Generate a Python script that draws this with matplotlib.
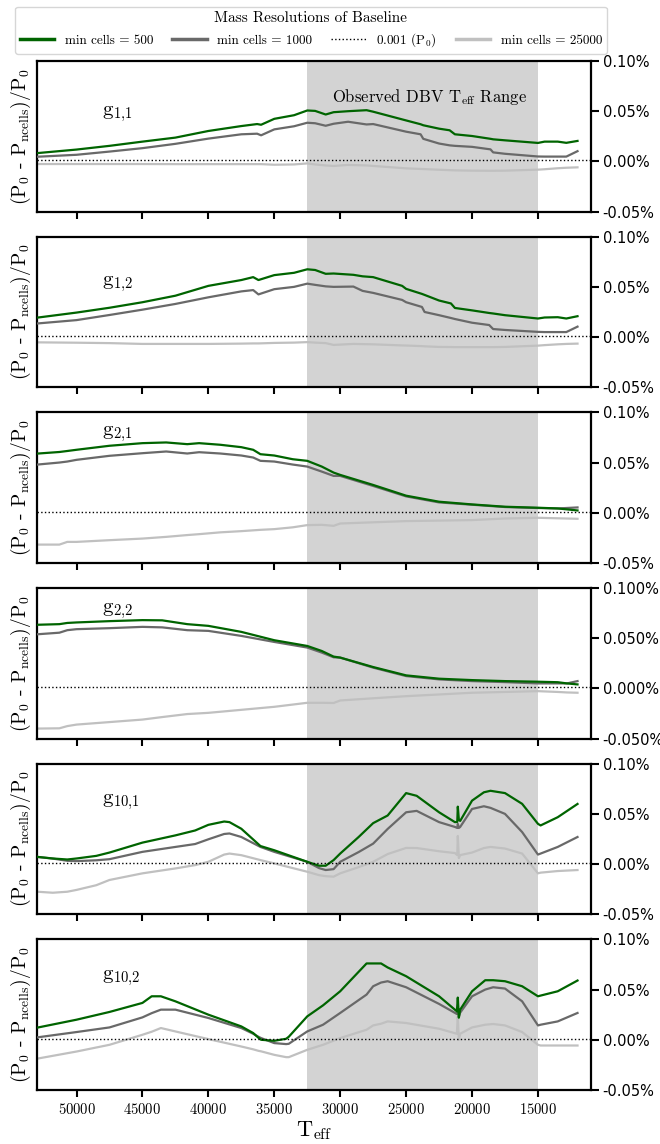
import matplotlib
matplotlib.use('Agg')
import matplotlib.pyplot as plt
from matplotlib.ticker import FixedLocator, FuncFormatter
from matplotlib.lines import Line2D

plt.rcParams['font.family'] = 'serif'
plt.rcParams['font.serif'] = ['cmr10', 'DejaVu Serif']
plt.rcParams['mathtext.fontset'] = 'cm'
plt.rcParams['axes.unicode_minus'] = False
plt.rcParams['axes.formatter.use_mathtext'] = True

# Diferenças relativas de período (%) para cada modo, por resolução mínima
t_g11 = [53200, 50000, 47500, 45000, 42500, 40000, 37500, 36300, 36000, 35000, 33500,
         32500, 31900, 31100, 30500, 29400, 28000, 27500, 25000, 23900, 23700, 22500,
         21700, 21300, 20000, 18600, 18400, 17500, 15000, 14500, 13500, 12850, 12000]
g11_500 = [0.008, 0.0118, 0.0155, 0.0197, 0.0237, 0.0303, 0.0352, 0.0372, 0.0365, 0.0424, 0.046,
           0.0507, 0.0503, 0.0467, 0.049, 0.050, 0.051, 0.0495, 0.0408, 0.037, 0.036, 0.0326,
           0.031, 0.027, 0.0253, 0.0225, 0.022, 0.021, 0.0184, 0.0197, 0.0197, 0.0185, 0.0204]
g11_1000 = [0.0045, 0.0066, 0.0098, 0.0132, 0.0175, 0.0227, 0.027, 0.0276, 0.026, 0.0319, 0.035,
            0.0385, 0.038, 0.0355, 0.0375, 0.0395, 0.0368, 0.0372, 0.0296, 0.027, 0.0225, 0.0178,
            0.016, 0.0155, 0.0145, 0.012, 0.009, 0.0076, 0.0049, 0.0048, 0.0048, 0.0048, 0.0102]
g11_25000 = [-0.0026, -0.0026, -0.0026, -0.0026, -0.0027, -0.0027, -0.0027, -0.0027, -0.0027, -0.0033, -0.003,
             -0.002, -0.003, -0.004, -0.0045, -0.0035, -0.004, -0.0045, -0.0069, -0.0075, -0.0076, -0.0083,
             -0.0087, -0.0089, -0.0092, -0.0093, -0.0093, -0.0092, -0.0082, -0.0078, -0.0068, -0.0063, -0.0059]

t_g12 = [53200, 50000, 47500, 45000, 42500, 40000, 37500, 36600, 36200, 35000, 33500, 32500,
         31900, 31100, 30500, 29000, 28300, 27500, 25300, 25000, 23800, 23600, 22500, 21600,
         21300, 20000, 18700, 18400, 17500, 15000, 14500, 13500, 12850, 12000]
g12_500 = [0.019, 0.0244, 0.0292, 0.0347, 0.0412, 0.051, 0.0568, 0.0597, 0.0568, 0.0617, 0.064, 0.0675,
           0.0668, 0.063, 0.0633, 0.062, 0.0605, 0.0597, 0.051, 0.048, 0.043, 0.042, 0.0364, 0.0335,
           0.029, 0.0266, 0.024, 0.0235, 0.0218, 0.0185, 0.0195, 0.0198, 0.0185, 0.0208]
g12_1000 = [0.0133, 0.0169, 0.022, 0.0273, 0.033, 0.0396, 0.0455, 0.0468, 0.0425, 0.0477, 0.050, 0.0532,
            0.052, 0.0505, 0.050, 0.0503, 0.046, 0.044, 0.037, 0.0347, 0.030, 0.025, 0.0218, 0.019,
            0.018, 0.0143, 0.012, 0.008, 0.0071, 0.0052, 0.005, 0.005, 0.005, 0.0104]
g12_25000 = [-0.0052, -0.0056, -0.006, -0.0068, -0.0068, -0.0068, -0.0065, -0.0063, -0.0063, -0.0058, -0.0055, -0.005,
             -0.0055, -0.006, -0.0078, -0.0068, -0.007, -0.0072, -0.0083, -0.0084, -0.009, -0.0092, -0.0098, -0.0099,
             -0.01, -0.01, -0.01, -0.01, -0.0098, -0.0085, -0.008, -0.0072, -0.0068, -0.0065]

t_g21 = [53200, 51300, 50700, 50000, 47500, 45000, 43200, 41600, 40700, 39100, 37500, 36600, 36050,
         35000, 33600, 32500, 31400, 30500, 30000, 27500, 25000, 22500, 20000, 17500, 15000, 13500, 12000]
g21_500 = [0.0587, 0.0605, 0.0615, 0.0627, 0.0667, 0.0693, 0.070, 0.0683, 0.0693, 0.0677, 0.0653, 0.0627, 0.0583,
           0.057, 0.0533, 0.0517, 0.046, 0.040, 0.0377, 0.0277, 0.017, 0.011, 0.0083, 0.006, 0.005, 0.0043, 0.0023]
g21_1000 = [0.0477, 0.050, 0.051, 0.0527, 0.0567, 0.0593, 0.061, 0.059, 0.0603, 0.059, 0.057, 0.055, 0.0517,
            0.051, 0.048, 0.046, 0.041, 0.0367, 0.0367, 0.0267, 0.0163, 0.0103, 0.008, 0.0057, 0.0047, 0.0043, 0.0053]
g21_25000 = [-0.0317, -0.0317, -0.029, -0.029, -0.0273, -0.0257, -0.024, -0.0222, -0.0213, -0.0195, -0.0183, -0.0175, -0.017,
             -0.0163, -0.0145, -0.0123, -0.012, -0.013, -0.0107, -0.0095, -0.0083, -0.0078, -0.0073, -0.0057, -0.005, -0.0055, -0.006]

t_g22 = [53200, 51300, 50700, 50000, 47500, 45000, 43500, 41600, 40000, 37500, 35000, 32500,
         31400, 30500, 30000, 27500, 25000, 22500, 20000, 17500, 15000, 13500, 12800, 12000]
g22_500 = [0.0633, 0.064, 0.0652, 0.0657, 0.067, 0.068, 0.0678, 0.064, 0.0623, 0.0563, 0.048, 0.0423,
           0.0373, 0.0317, 0.0307, 0.0213, 0.013, 0.0097, 0.0083, 0.0073, 0.0067, 0.0062, 0.005, 0.004]
g22_1000 = [0.0537, 0.0555, 0.058, 0.059, 0.060, 0.0613, 0.0608, 0.058, 0.0573, 0.0523, 0.0463, 0.0407,
            0.0357, 0.031, 0.0307, 0.0207, 0.0123, 0.009, 0.0073, 0.0063, 0.005, 0.005, 0.005, 0.0073]
g22_25000 = [-0.040, -0.0397, -0.0375, -0.036, -0.0335, -0.031, -0.0285, -0.0255, -0.0243, -0.0213, -0.0183, -0.0143,
             -0.0143, -0.0145, -0.012, -0.0098, -0.0077, -0.006, -0.0043, -0.0035, -0.0027, -0.0035, -0.004, -0.0043]

t_g101 = [53200, 51800, 50700, 50000, 48500, 47500, 45000, 42500, 41000, 40000, 38800, 38400, 37500,
          36050, 35000, 32500, 31600, 31100, 30500, 30000, 28600, 27500, 26400, 25000, 24200, 22500,
          21300, 21120, 21080, 21000, 20900, 20000, 19100, 18600, 17500, 16200, 15000, 14800, 13500, 12000]
g101_500 = [0.0075, 0.0056, 0.0046, 0.0056, 0.0082, 0.0115, 0.0214, 0.0286, 0.0335, 0.0391, 0.0424, 0.0418, 0.0352,
            0.018, 0.0138, 0.0023, -0.0016, -0.0016, 0.004, 0.0105, 0.027, 0.0408, 0.0484, 0.0707, 0.068, 0.0516,
            0.0418, 0.042, 0.0572, 0.044, 0.043, 0.0632, 0.0715, 0.073, 0.0707, 0.060, 0.0401, 0.0385, 0.0467, 0.0599]
g101_1000 = [0.0075, 0.0055, 0.0033, 0.003, 0.0038, 0.0049, 0.0122, 0.0171, 0.020, 0.0247, 0.030, 0.0305, 0.027,
             0.0171, 0.0122, 0.0023, -0.004, -0.0059, -0.005, 0.0023, 0.012, 0.0204, 0.035, 0.0516, 0.053, 0.0418,
             0.037, 0.036, 0.040, 0.036, 0.037, 0.0549, 0.0576, 0.056, 0.050, 0.0319, 0.0095, 0.0105, 0.0171, 0.027]
g101_25000 = [-0.0273, -0.0285, -0.0275, -0.0257, -0.021, -0.0158, -0.0092, -0.0043, -0.001, 0.0023, 0.0095, 0.0105, 0.0089,
              0.004, 0.0007, -0.0076, -0.011, -0.012, -0.0125, -0.0092, -0.003, 0.0023, 0.010, 0.0161, 0.016, 0.0128,
              0.011, 0.009, 0.028, 0.006, 0.009, 0.0115, 0.016, 0.0171, 0.0155, 0.0105, -0.0092, -0.0085, -0.0069, -0.0059]

t_g102 = [53200, 50000, 47500, 45000, 44300, 43600, 42500, 40000, 37500, 36600, 36200, 36000, 35000,
          34100, 33900, 32500, 31300, 30000, 28000, 27500, 26900, 26400, 25000, 22500, 21150, 21080,
          21000, 20900, 20000, 19000, 18400, 17500, 16200, 15000, 14800, 13500, 12000]
g102_500 = [0.0115, 0.020, 0.0277, 0.0367, 0.0433, 0.0433, 0.0383, 0.025, 0.0133, 0.0067, 0.002, 0.0, -0.001,
            0.001, 0.003, 0.0233, 0.0343, 0.0483, 0.076, 0.076, 0.076, 0.072, 0.0633, 0.0433, 0.0283, 0.042,
            0.022, 0.030, 0.0483, 0.0593, 0.0593, 0.0583, 0.0533, 0.0433, 0.044, 0.0483, 0.059]
g102_1000 = [0.002, 0.0077, 0.0123, 0.0223, 0.0265, 0.030, 0.030, 0.0217, 0.0117, 0.006, 0.003, 0.0017, -0.0033,
             -0.0043, -0.004, 0.0083, 0.015, 0.0267, 0.045, 0.0533, 0.057, 0.0583, 0.0523, 0.0357, 0.0257, 0.030,
             0.023, 0.027, 0.0433, 0.050, 0.0523, 0.051, 0.0383, 0.0143, 0.015, 0.0183, 0.0267]
g102_25000 = [-0.0193, -0.0117, -0.005, 0.005, 0.008, 0.0117, 0.0083, 0.0007, -0.0067, -0.0095, -0.011, -0.0115, -0.015,
              -0.0173, -0.0173, -0.010, -0.005, 0.0017, 0.010, 0.0143, 0.016, 0.0183, 0.0167, 0.011, 0.006, 0.023,
              0.0, 0.006, 0.0123, 0.015, 0.0157, 0.0143, 0.0077, -0.005, -0.0057, -0.0057, -0.0057]

modes = [r'g$_{1{,}1}$', r'g$_{1{,}2}$', r'g$_{2{,}1}$', r'g$_{2{,}2}$', r'g$_{10{,}1}$', r'g$_{10{,}2}$']
teffs = [t_g11, t_g12, t_g21, t_g22, t_g101, t_g102]
res_500 = [g11_500, g12_500, g21_500, g22_500, g101_500, g102_500]
res_1000 = [g11_1000, g12_1000, g21_1000, g22_1000, g101_1000, g102_1000]
res_25000 = [g11_25000, g12_25000, g21_25000, g22_25000, g101_25000, g102_25000]
label_y = [0.047, 0.0526, 0.078, 0.077, 0.0615, 0.0617]
tick_decimals = [2, 2, 2, 3, 2, 2]

threshold = 0.001
dbv_range = (32500, 15000)
yticks = [-0.05, 0.0, 0.05, 0.10]

fig, axes = plt.subplots(6, 1, figsize=(6.6, 11.44), dpi=100, sharex=True)
fig.subplots_adjust(left=0.056, right=0.895, top=0.9467, bottom=0.0472, hspace=0.166)

for i, ax in enumerate(axes):
    ax.axvspan(dbv_range[0], dbv_range[1], color='lightgray', lw=0, zorder=0)
    ax.plot(teffs[i], res_500[i], color='darkgreen', lw=1.6, zorder=4)
    ax.plot(teffs[i], res_1000[i], color='dimgray', lw=1.6, zorder=3)
    ax.axhline(threshold, color='black', ls=':', lw=1.0, zorder=5)
    ax.plot(teffs[i], res_25000[i], color='silver', lw=1.6, zorder=2)

    ax.set_xlim(53000, 11000)
    ax.set_ylim(-0.05, 0.10)
    ax.yaxis.tick_right()
    ax.yaxis.set_major_locator(FixedLocator(yticks))
    d = tick_decimals[i]
    ax.yaxis.set_major_formatter(FuncFormatter(lambda v, p, d=d: f'{v:.{d}f}%'))
    for lab in ax.get_yticklabels():
        lab.set_fontfamily('DejaVu Sans')
    ax.tick_params(axis='y', which='both', direction='out', length=6, width=1.5,
                   labelsize=10.5, right=True, left=False, pad=2.5)
    ax.tick_params(axis='x', direction='out', length=5, width=1.5, labelsize=10.5)
    for sp in ax.spines.values():
        sp.set_linewidth(1.6)

    ax.set_ylabel(r'(P$_0$ - P$_{\rm ncells}$)/P$_0$', fontsize=14, labelpad=3)
    ax.yaxis.set_label_position('left')
    ax.text(48100, label_y[i], modes[i], fontsize=15, ha='left', va='center', zorder=6)

axes[0].text(30600, 0.0638, r'Observed DBV T$_{\rm eff}$ Range', fontsize=12,
             ha='left', va='center', zorder=6)
axes[-1].set_xticks([50000, 45000, 40000, 35000, 30000, 25000, 20000, 15000])
axes[-1].set_xlabel(r'T$_{\rm eff}$', fontsize=16, labelpad=2)

handles = [
    Line2D([], [], color='darkgreen', lw=2.5),
    Line2D([], [], color='dimgray', lw=2.5),
    Line2D([], [], color='black', ls=':', lw=1.0),
    Line2D([], [], color='silver', lw=2.5),
]
labels = ['min cells = 500', 'min cells = 1000', r'0.001 (P$_0$)', 'min cells = 25000']
fig.legend(handles, labels, loc='upper center', bbox_to_anchor=(0.471, 1.0), ncol=4,
           fontsize=9.5, title='Mass Resolutions of Baseline', title_fontsize=11,
           handlelength=2.6, columnspacing=1.45, handletextpad=0.8, borderpad=0.35,
           frameon=True, fancybox=True)

plt.savefig('out.png', dpi=100)
